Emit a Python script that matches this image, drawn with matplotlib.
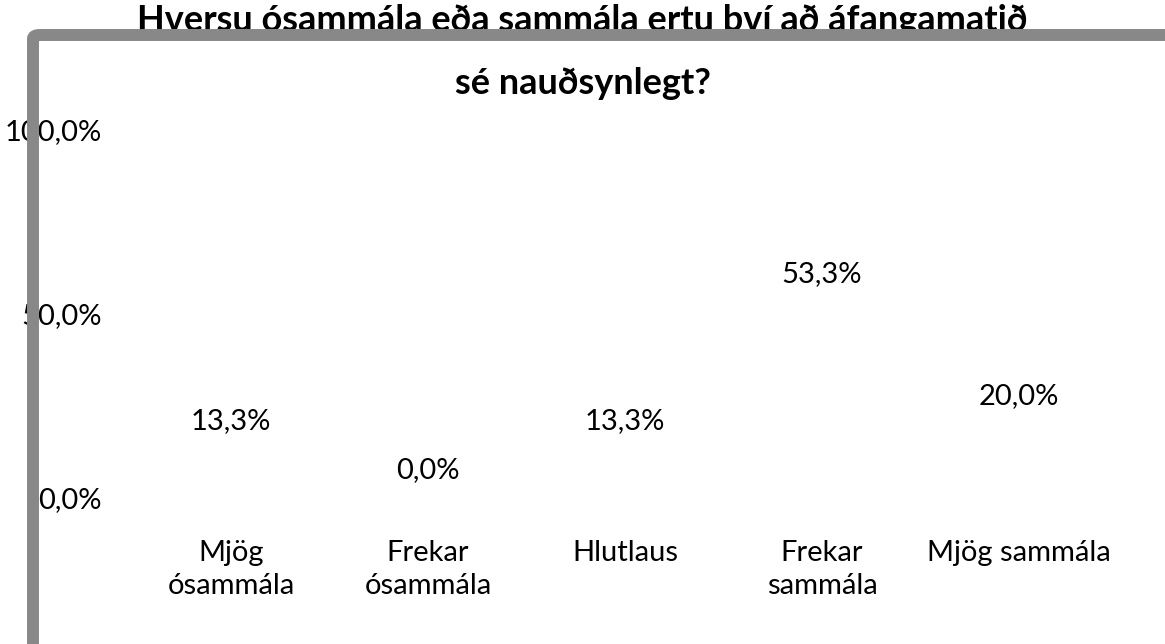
import matplotlib
matplotlib.use("Agg")
import matplotlib.pyplot as plt
from matplotlib.patches import FancyBboxPatch

categories = ["Mjög\nósammála", "Frekar\nósammála", "Hlutlaus", "Frekar\nsammála", "Mjög sammála"]
values = [13.3, 0.0, 13.3, 53.3, 20.0]
yticks = [0, 50, 100]
ytick_labels = ["0,0%", "50,0%", "100,0%"]
title_lines = ["Hversu ósammála eða sammála ertu því að áfangamatið", "sé nauðsynlegt?"]

plt.rcParams['font.family'] = ['Lato', 'DejaVu Sans']

W, H = 1165, 644
FS = 21
fig = plt.figure(figsize=(W / 100, H / 100), dpi=100)
ax = fig.add_axes([132.5 / W, (H - 500) / H, (1117.5 - 132.5) / W, (500 - 132) / H])

x = list(range(len(categories)))
bars = ax.bar(x, values, width=0.6, color='none', edgecolor='none')
for xi, v in zip(x, values):
    ax.annotate(f"{v:.1f}".replace('.', ',') + "%", (xi, v), xytext=(0, 21.6),
                textcoords='offset points', ha='center', va='center', fontsize=FS)

ax.set_xlim(-0.5, len(categories) - 0.5)
ax.set_ylim(0, 100)
ax.set_yticks(yticks)
ax.set_yticklabels(ytick_labels, fontsize=FS, va='center')
ax.set_xticks(x)
ax.set_xticklabels(categories, fontsize=FS, linespacing=1.32)
ax.tick_params(axis='y', length=0, pad=22)
ax.tick_params(axis='x', length=0, pad=29)
for s in ax.spines.values():
    s.set_visible(False)

fig.text(0.5, 1 - 31 / H, title_lines[0], ha='center', va='baseline', fontsize=26, fontweight='bold')
fig.text(0.5, 1 - 94 / H, title_lines[1], ha='center', va='baseline', fontsize=26, fontweight='bold')

frame = FancyBboxPatch((33 / W, -0.2), 1.2, (H - 35) / H + 0.2,
                       boxstyle="round,pad=0,rounding_size=0.006",
                       transform=fig.transFigure, facecolor='none',
                       edgecolor='#888888', linewidth=8.6, zorder=10)
fig.patches.append(frame)

fig.savefig("out.png", dpi=100)
